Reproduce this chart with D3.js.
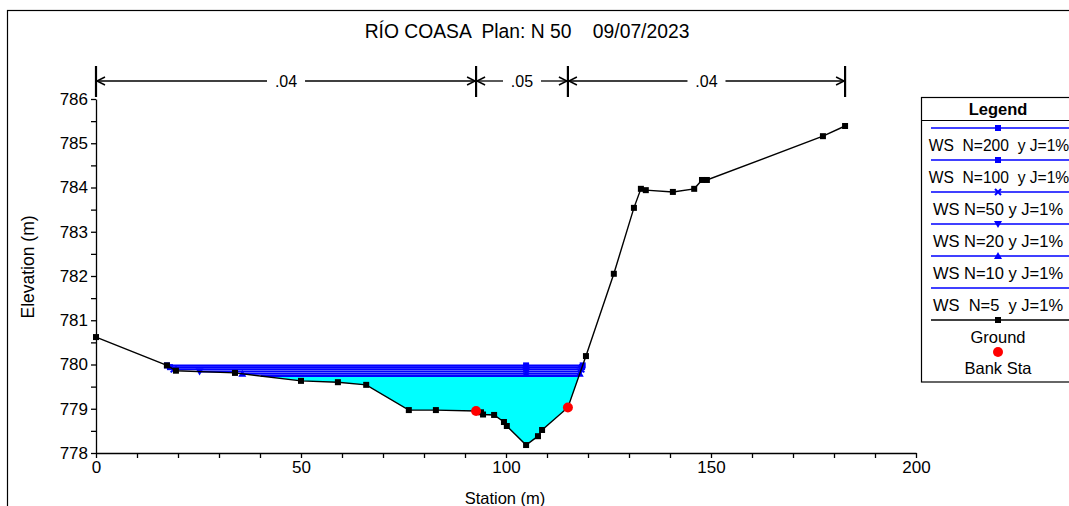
<!DOCTYPE html>
<html><head><meta charset="utf-8">
<script src="https://cdn.jsdelivr.net/npm/d3@7"></script>
<style>
body{margin:0;background:#fff;}
svg{display:block;font-family:"Liberation Sans",Arial,sans-serif;}
text{white-space:pre;}
</style></head>
<body><svg id="c" width="1069" height="506"></svg>
<script>
// ---- data ----
const groundSta = [0, 17.3, 19.5, 33.9, 50.0, 59.0, 65.9, 76.3, 82.9, 92.7, 93.9, 94.4, 97.1, 99.5, 100.2, 104.9, 107.8, 108.8, 115.1, 119.5, 126.3, 131.2, 132.9, 134.1, 140.7, 145.9, 147.8, 149.0, 177.3, 182.7];
const groundElev = [780.62, 779.98, 779.86, 779.81, 779.63, 779.60, 779.54, 778.97, 778.97, 778.95, 778.92, 778.87, 778.86, 778.70, 778.61, 778.18, 778.38, 778.52, 779.03, 780.19, 782.05, 783.54, 783.97, 783.94, 783.90, 783.97, 784.17, 784.17, 785.16, 785.39];
const bankSta = [92.7, 115.1];
const bankElev = [778.95, 779.03];
const wsNames = ["WS  N=200  y J=1%", "WS  N=100  y J=1%", "WS N=50 y J=1%", "WS N=20 y J=1%", "WS N=10 y J=1%", "WS  N=5  y J=1%"];
const wsElev = [779.98, 779.94, 779.89, 779.84, 779.79, 779.74];
const wsSymbols = ["square", "square", "cross", "tridown", "triup", "none"];
const wsMidSta = 104.9;
const manningSta = [0, 92.7, 115.1, 182.7];
const manningN = [".04", ".05", ".04"];
const xTicks = d3.range(0, 201, 10);
const yTicks = d3.range(778, 786.01, 0.5);
const titleText = "RÍO COASA  Plan: N 50    09/07/2023";

// ---- drawing ----
const svg = d3.select("#c");
const x = d3.scaleLinear().domain([0, 200]).range([96, 916]);
const y = d3.scaleLinear().domain([778, 786]).range([453, 99]);
const ground = groundSta.map((s, i) => ({s, e: groundElev[i]}));

svg.append("rect").attr("x", 7.5).attr("y", 10.5).attr("width", 1100).attr("height", 600)
  .attr("fill", "none").attr("stroke", "#000").attr("stroke-width", 1.2);

svg.append("text").attr("x", 527).attr("y", 38).attr("text-anchor", "middle")
  .attr("font-size", 19.3).text(titleText);

function leftCross(h) {
  for (let i = 0; i < ground.length - 1; i++) {
    const a = ground[i], b = ground[i + 1];
    if (a.e >= h && b.e < h) return a.s + (a.e - h) / (a.e - b.e) * (b.s - a.s);
  }
  return ground[0].s;
}
function rightCross(h) {
  for (let j = ground.length - 1; j > 0; j--) {
    const a = ground[j], b = ground[j - 1];
    if (a.e >= h && b.e < h) return a.s - (a.e - h) / (a.e - b.e) * (a.s - b.s);
  }
  return ground[ground.length - 1].s;
}

// water fill (lowest profile)
const hLow = d3.min(wsElev);
const lx = leftCross(hLow), rx = rightCross(hLow);
const poly = [[lx, hLow]].concat(ground.filter(g => g.s > lx && g.s < rx).map(g => [g.s, g.e])).concat([[rx, hLow]]);
svg.append("path").attr("d", d3.line().x(d => x(d[0])).y(d => y(d[1]))(poly) + "Z")
  .attr("fill", "#00ffff").attr("stroke", "none");

// axes
const xAxis = svg.append("g").attr("transform", "translate(0,453)")
  .call(d3.axisBottom(x).tickValues(xTicks).tickSize(5).tickSizeOuter(0).tickPadding(3)
    .tickFormat(d => d % 50 === 0 ? d : ""));
const yAxis = svg.append("g").attr("transform", "translate(96,0)")
  .call(d3.axisLeft(y).tickValues(yTicks).tickSize(5).tickSizeOuter(0).tickPadding(3)
    .tickFormat(d => Number.isInteger(d) ? d : ""));
[xAxis, yAxis].forEach(g => {
  g.selectAll("text").attr("font-size", 17).attr("font-family", "Liberation Sans, Arial").attr("fill", "#000");
  g.selectAll("line,path").attr("stroke", "#000").attr("stroke-width", 1.3);
});

svg.append("text").attr("transform", "translate(34,267) rotate(-90)").attr("text-anchor", "middle")
  .attr("font-size", 17.5).text("Elevation (m)");
svg.append("text").attr("x", 505).attr("y", 504).attr("text-anchor", "middle")
  .attr("font-size", 16.5).text("Station (m)");

// Manning n markers
const my = 81;
const mg = svg.append("g").attr("stroke", "#000").attr("stroke-width", 1.3);
manningSta.forEach(s => mg.append("line").attr("x1", x(s)).attr("x2", x(s)).attr("y1", 66).attr("y2", 97).attr("stroke-width", 2.2));
function arrow(px, dir) {
  mg.append("path").attr("d", `M${px - dir * 8},${my - 4}L${px},${my}L${px - dir * 8},${my + 4}`)
    .attr("fill", "none").attr("stroke-width", 1.5);
}
manningN.forEach((n, i) => {
  const a = x(manningSta[i]), b = x(manningSta[i + 1]), m = (a + b) / 2;
  const half = 19;
  mg.append("line").attr("x1", a + 1).attr("x2", m - half).attr("y1", my).attr("y2", my);
  mg.append("line").attr("x1", m + half).attr("x2", b - 1).attr("y1", my).attr("y2", my);
  arrow(a + 1, -1); arrow(b - 1, 1);
  svg.append("text").attr("x", m).attr("y", my + 6).attr("text-anchor", "middle")
    .attr("font-size", 16).text(n);
});

function drawSym(g, type, cx, cy, color) {
  if (type === "square") g.append("rect").attr("x", cx - 3).attr("y", cy - 3).attr("width", 6).attr("height", 6).attr("fill", color);
  else if (type === "cross") g.append("path").attr("d", `M${cx - 3},${cy - 3}L${cx + 3},${cy + 3}M${cx - 3},${cy + 3}L${cx + 3},${cy - 3}`).attr("stroke", color).attr("stroke-width", 2);
  else if (type === "tridown") g.append("path").attr("d", `M${cx - 4},${cy - 3}L${cx + 4},${cy - 3}L${cx},${cy + 4}Z`).attr("fill", color);
  else if (type === "triup") g.append("path").attr("d", `M${cx - 4},${cy + 3}L${cx + 4},${cy + 3}L${cx},${cy - 4}Z`).attr("fill", color);
  else if (type === "circle") g.append("circle").attr("cx", cx).attr("cy", cy).attr("r", 5).attr("fill", color);
}

// WS lines
const wsg = svg.append("g");
wsElev.forEach((h, i) => {
  const l = leftCross(h), r = rightCross(h);
  wsg.append("line").attr("x1", x(l)).attr("x2", x(r)).attr("y1", y(h)).attr("y2", y(h))
    .attr("stroke", "#0000ff").attr("stroke-width", 2);
});
wsElev.forEach((h, i) => {
  const l = leftCross(h), r = rightCross(h);
  [l, wsMidSta, r].forEach(s => drawSym(wsg, wsSymbols[i], x(s), y(h), "#0000ff"));
});

// ground
svg.append("path").datum(ground).attr("d", d3.line().x(d => x(d.s)).y(d => y(d.e)))
  .attr("fill", "none").attr("stroke", "#000").attr("stroke-width", 1.4);
const gg = svg.append("g");
ground.forEach(d => drawSym(gg, "square", x(d.s), y(d.e), "#000"));

bankSta.forEach((s, i) => drawSym(svg, "circle", x(s), y(bankElev[i]), "#ff0000"));

// legend
const lg = svg.append("g");
lg.append("rect").attr("x", 921.5).attr("y", 97.5).attr("width", 160).attr("height", 284.5)
  .attr("fill", "#fff").attr("stroke", "#000").attr("stroke-width", 1.2);
lg.append("line").attr("x1", 921.5).attr("x2", 1081).attr("y1", 120.5).attr("y2", 120.5).attr("stroke", "#000").attr("stroke-width", 1.2);
lg.append("text").attr("x", 998).attr("y", 115).attr("text-anchor", "middle").attr("font-size", 16.5).attr("font-weight", "bold").text("Legend");
const cx = 998;
wsNames.forEach((n, i) => {
  const ly = 128 + i * 32;
  lg.append("line").attr("x1", 931).attr("x2", 1075).attr("y1", ly).attr("y2", ly).attr("stroke", "#0000ff").attr("stroke-width", 1.5);
  drawSym(lg, wsSymbols[i], cx, ly, "#0000ff");
  lg.append("text").attr("x", i < 2 ? 999 : cx).attr("y", ly + 23).attr("text-anchor", "middle")
    .attr("font-size", i < 2 ? 15.6 : 16.5).text(n);
});
const gy = 128 + 6 * 32;
lg.append("line").attr("x1", 931).attr("x2", 1075).attr("y1", gy).attr("y2", gy).attr("stroke", "#000").attr("stroke-width", 1.5);
drawSym(lg, "square", cx, gy, "#000");
lg.append("text").attr("x", cx).attr("y", gy + 23).attr("text-anchor", "middle").attr("font-size", 16.5).text("Ground");
drawSym(lg, "circle", cx, gy + 32, "#ff0000");
lg.append("text").attr("x", cx).attr("y", gy + 54).attr("text-anchor", "middle").attr("font-size", 16.5).text("Bank Sta");
</script></body></html>
